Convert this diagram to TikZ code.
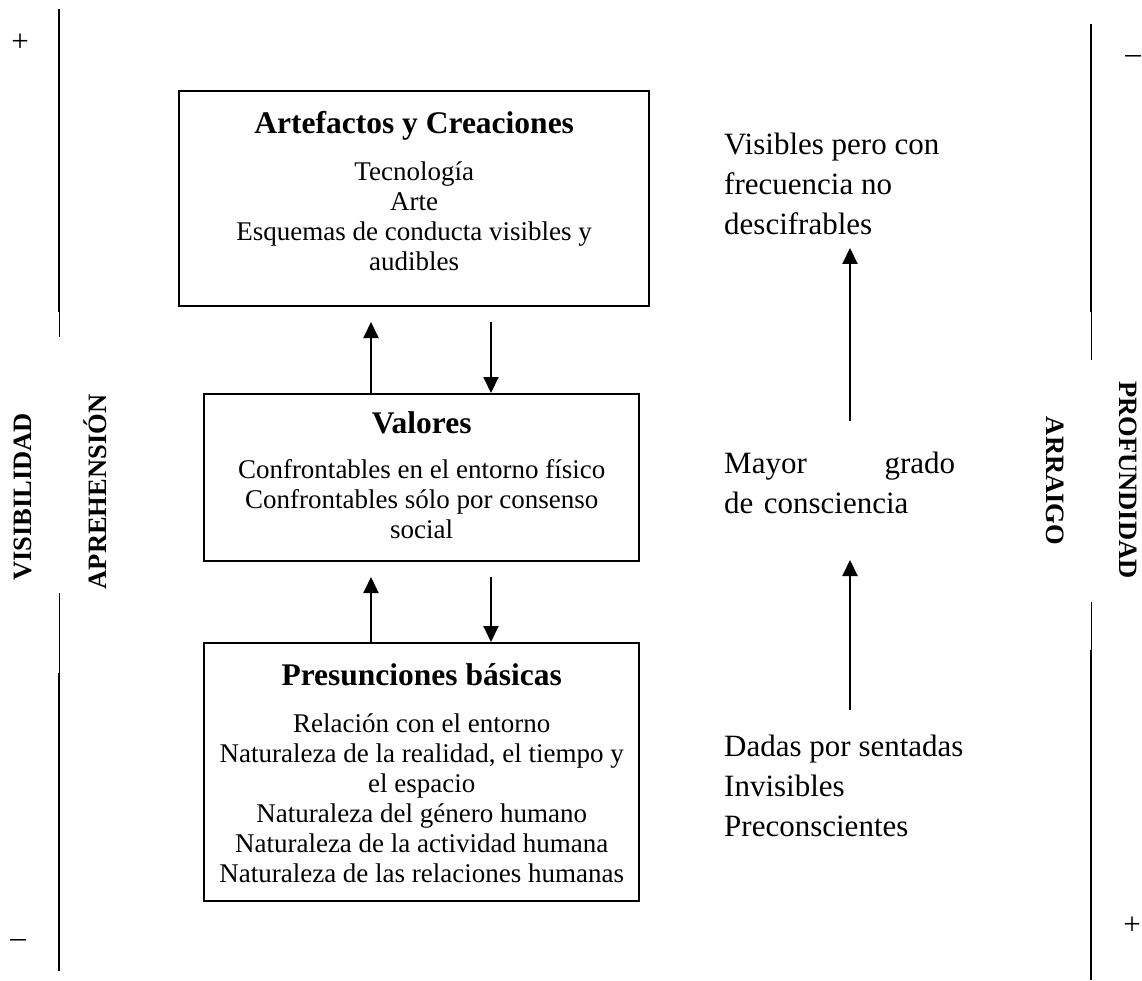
\documentclass[tikz,border=0pt]{standalone}
\usepackage{fontspec}
\setmainfont{Liberation Serif}
\usetikzlibrary{arrows.meta,calc}

\begin{document}
\begin{tikzpicture}[x=1pt,y=-1pt,
  box/.style={draw, line width=2.4pt, inner sep=0pt, anchor=north west},
  ttl/.style={font=\bfseries\fontsize{31.5}{36}\selectfont, inner sep=0pt, anchor=north},
  bodytxt/.style={font=\fontsize{27}{30}\selectfont, align=center, inner sep=0pt, anchor=north},
  side/.style={font=\fontsize{31}{40}\selectfont, align=left, inner sep=0pt, anchor=north west},
  rot/.style={font=\bfseries\fontsize{26.5}{30}\selectfont, inner sep=0pt},
  sign/.style={font=\fontsize{31}{36}\selectfont, inner sep=0pt},
  arr/.style={-{Triangle[width=15pt,length=16pt]}, line width=2pt},
  heavyline/.style={line width=2.2pt},
  lightline/.style={line width=1pt}]
\useasboundingbox (0,0) rectangle (1142,981);

% the three levels
\node[box, minimum width=470pt, minimum height=215pt] (art) at (178,90) {};
\node[ttl] (artT) at ($(art.north)+(0,21)$) {Artefactos y Creaciones};
\node[bodytxt] (artB) at ($(art.north)+(0,71.5)$) {Tecnología\\Arte\\Esquemas de conducta visibles y\\audibles};

\node[box, minimum width=435pt, minimum height=167pt] (val) at (203,393) {};
\node[ttl] (valT) at ($(val.north)+(0,18)$) {Valores};
\node[bodytxt] (valB) at ($(val.north)+(0,66)$) {Confrontables en el entorno físico\\Confrontables sólo por consenso\\social};

\node[box, minimum width=435pt, minimum height=258pt] (pre) at (203,642) {};
\node[ttl] (preT) at ($(pre.north)+(0,21)$) {Presunciones básicas};
\node[bodytxt] (preB) at ($(pre.north)+(0,71.5)$) {Relación con el entorno\\Naturaleza de la realidad, el tiempo y\\el espacio\\Naturaleza del género humano\\Naturaleza de la actividad humana\\Naturaleza de las relaciones humanas};

% arrows between the levels
\coordinate (u1) at (371,322);
\coordinate (d1) at (491,322);
\draw[arr] (val.north -| u1) -- (u1);
\draw[arr] (d1) -- (val.north -| d1);
\coordinate (u2) at (371,577);
\coordinate (d2) at (491,577);
\draw[arr] (pre.north -| u2) -- (u2);
\draw[arr] (d2) -- (pre.north -| d2);

% right-hand column
\node[side] (visT) at (724,133) {Visibles pero con\\frecuencia no\\descifrables};
\node[side, text width=231pt] (mayT) at (724,452) {Mayor\hfill grado\\de consciencia};
\node[side] (dadT) at (724,735) {Dadas por sentadas\\Invisibles\\Preconscientes};
\coordinate (r1a) at (850,421);
\coordinate (r1b) at (850,248);
\coordinate (r2a) at (850,710);
\coordinate (r2b) at (850,560);
\draw[arr] (r1a) -- (r1b);
\draw[arr] (r2a) -- (r2b);

% side scales
\coordinate (L1) at (59,9);
\coordinate (L2) at (59,312);
\coordinate (L3) at (59,337);
\coordinate (L4) at (59,593);
\coordinate (L5) at (59,673);
\coordinate (L6) at (59,971);
\draw[heavyline] (L1) -- (L2);
\draw[lightline] (L2) -- (L3);
\draw[lightline] (L4) -- (L5);
\draw[heavyline] (L5) -- (L6);

\coordinate (R1) at (1091,24);
\coordinate (R2) at (1091,312);
\coordinate (R3) at (1091,360);
\coordinate (R4) at (1091,602);
\coordinate (R5) at (1091,650);
\coordinate (R6) at (1091,980);
\draw[heavyline] (R1) -- (R2);
\draw[lightline] (R2) -- (R3);
\draw[lightline] (R4) -- (R5);
\draw[heavyline] (R5) -- (R6);

\node[rot, rotate=90] (visib) at (23,497) {VISIBILIDAD};
\node[rot, rotate=90] (apreh) at (95,492) {APREHENSIÓN};
\node[rot, rotate=-90] (profu) at (1128,480) {PROFUNDIDAD};
\node[rot, rotate=-90] (arrai) at (1055,481) {ARRAIGO};

\node[sign] (plusTL) at (20,43) {+};
\node[sign] (minusBL) at (18,943) {–};
\node[sign] (minusTR) at (1133,60) {–};
\node[sign] (plusBR) at (1132,926) {+};
\end{tikzpicture}
\end{document}
